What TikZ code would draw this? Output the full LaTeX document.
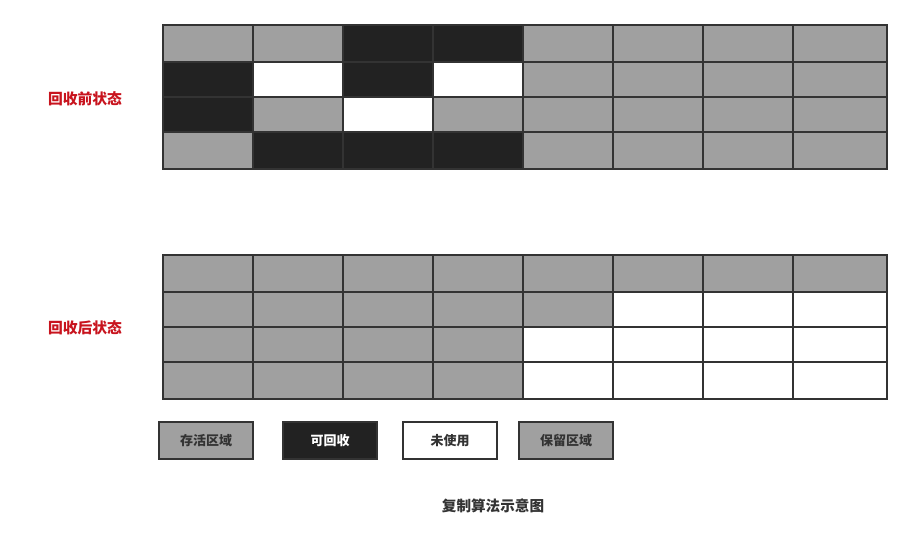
\documentclass[tikz,border=0pt]{standalone}
\usepackage{fontspec}
\setmainfont{Noto Sans CJK SC}
\definecolor{cgray}{HTML}{A0A0A0}
\definecolor{cdark}{HTML}{222222}
\definecolor{cline}{HTML}{333333}
\definecolor{cred}{HTML}{C8141E}
\tikzset{
  cell/.style={draw=cline, line width=2pt, anchor=north west, inner sep=0pt, outer sep=0pt},
  fillG/.style={fill=cgray},
  fillB/.style={fill=cdark},
  fillW/.style={fill=white},
  lbl/.style={text=cred, font=\fontsize{14.8}{17}\selectfont\bfseries},
  legendbox/.style={draw=cline, line width=2pt, minimum width=94pt, minimum height=37pt, inner sep=0pt, font=\fontsize{13}{15}\selectfont\bfseries},
  titletext/.style={text=cline, font=\fontsize{14.6}{17}\selectfont\bfseries}
}
\newcommand\cellrow[5]{%
  \foreach \k [count=\c from 0] in {#5}{
    \pgfmathsetmacro\xx{163+90*\c}
    \pgfmathsetmacro\ww{\c==7 ? 94 : 90}
    \node[cell, fill\k, minimum width=\ww pt, minimum height=#4pt] (#1-#2-\c) at (\xx,#3) {};
  }}
\begin{document}
\begin{tikzpicture}[x=1pt,y=-1pt]
\useasboundingbox (0,0) rectangle (912,549);
% before
\cellrow{t}{0}{25}{37}{G,G,B,B,G,G,G,G}
\cellrow{t}{1}{62}{35}{B,W,B,W,G,G,G,G}
\cellrow{t}{2}{97}{35}{B,G,W,G,G,G,G,G}
\cellrow{t}{3}{132}{37}{G,B,B,B,G,G,G,G}
% after
\cellrow{b}{0}{255}{37}{G,G,G,G,G,G,G,G}
\cellrow{b}{1}{292}{35}{G,G,G,G,G,W,W,W}
\cellrow{b}{2}{327}{35}{G,G,G,G,W,W,W,W}
\cellrow{b}{3}{362}{37}{G,G,G,G,W,W,W,W}
\node[lbl] (before) at (85,99) {回收前状态};
\node[lbl] (after) at (85,328) {回收后状态};
\node[legendbox, fill=cgray, text=cline] (live) at (206,440.5) {存活区域};
\node[legendbox, fill=cdark, text=white] (garbage) at (330,440.5) {可回收};
\node[legendbox, fill=white, text=cline] (unused) at (450,440.5) {未使用};
\node[legendbox, fill=cgray, text=cline] (reserved) at (566,440.5) {保留区域};
\node[titletext] (title) at (493,506) {复制算法示意图};
\end{tikzpicture}
\end{document}
